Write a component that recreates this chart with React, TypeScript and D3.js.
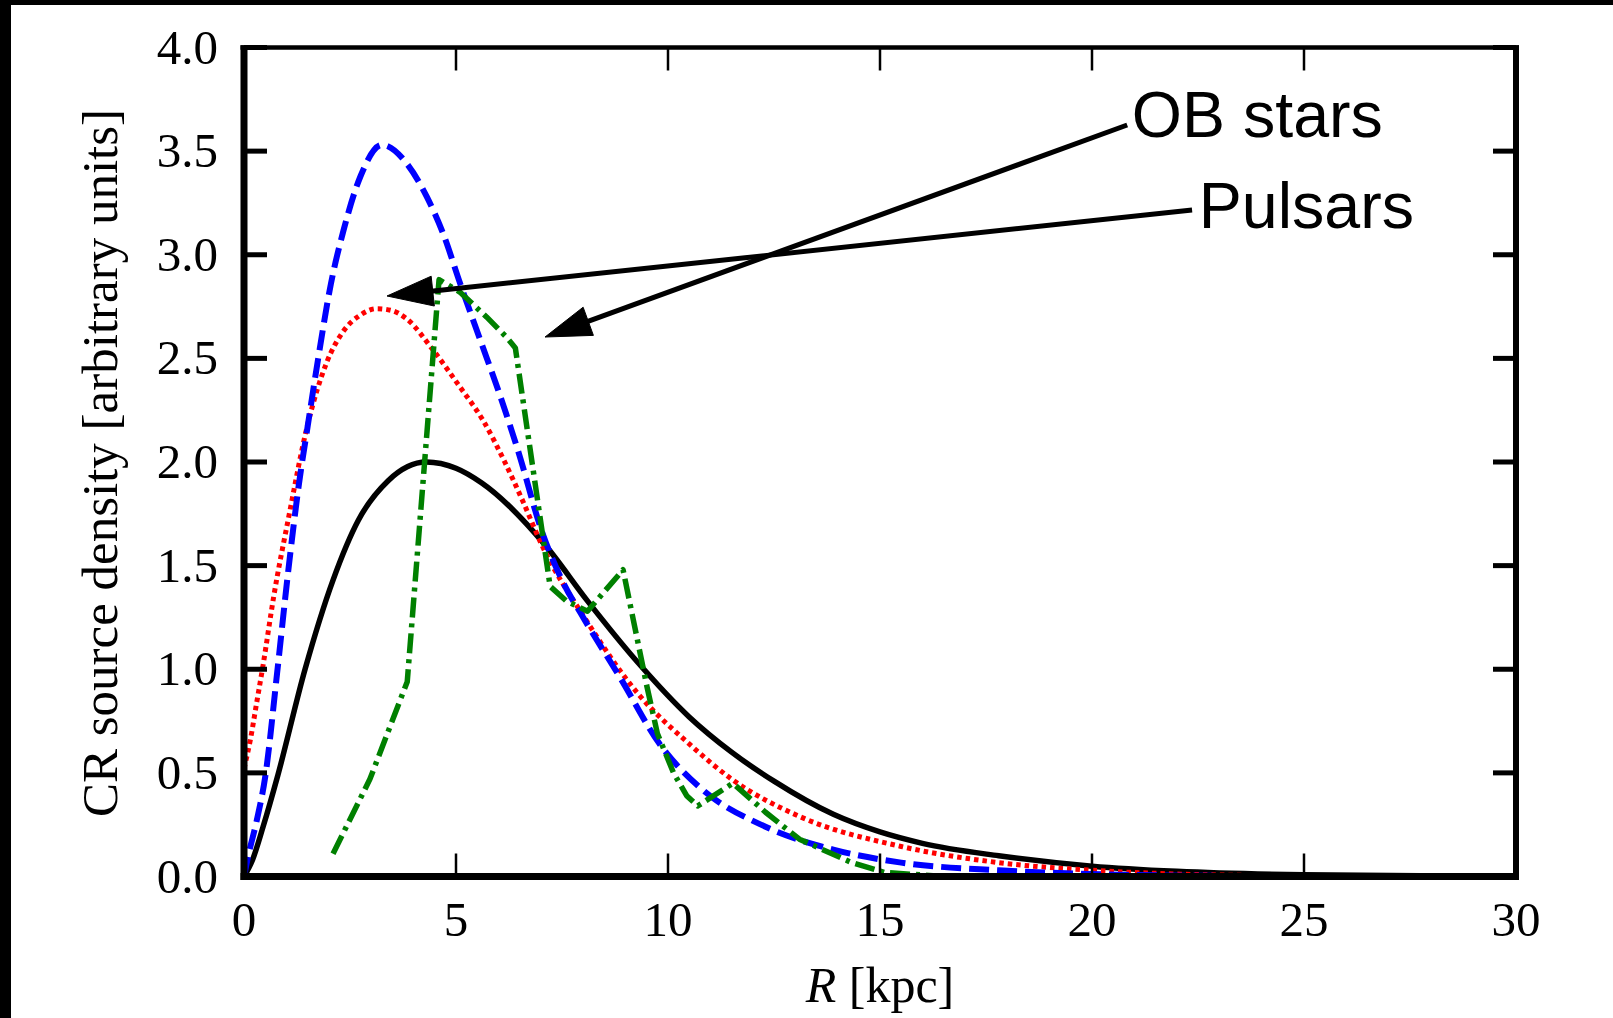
import React from 'react';
import * as d3 from 'd3';

// ---- data ----
const xTickValues = [0, 5, 10, 15, 20, 25, 30];
const yTickValues = [0, 0.5, 1.0, 1.5, 2.0, 2.5, 3.0, 3.5, 4.0];

// solid black curve: [R (kpc), density]
const blackSolid: [number, number][] = [
  [0, 0], [0.2, 0.08], [0.45, 0.24], [0.8, 0.49], [1.44, 1.0], [2.1, 1.43], [2.7, 1.72],
  [3.4, 1.91], [4.3, 2.0], [5.0, 1.97], [5.6, 1.9], [7.1, 1.6], [8.1, 1.33], [9.3, 1.03],
  [10.5, 0.77], [11.5, 0.6], [12.5, 0.46], [13.9, 0.3], [15, 0.215], [16, 0.16],
  [17.8, 0.1], [20, 0.05], [22, 0.025], [25, 0.008], [30, 0],
];

// blue dashed curve
const blueDashed: [number, number][] = [
  [0, 0], [0.1, 0.1], [0.3, 0.27], [0.5, 0.48], [0.78, 0.98], [1.03, 1.45], [1.3, 1.9],
  [1.5, 2.17], [1.75, 2.5], [2.05, 2.86], [2.35, 3.12], [2.75, 3.38], [3.25, 3.53],
  [3.84, 3.44], [4.31, 3.28], [4.7, 3.1], [5.1, 2.86], [5.57, 2.59], [6.04, 2.32],
  [6.5, 2.03], [7.0, 1.68], [7.5, 1.43], [8.0, 1.25], [8.87, 0.96], [9.8, 0.64],
  [10.75, 0.43], [12.3, 0.24], [13.9, 0.13], [15.5, 0.067], [17.8, 0.03], [20, 0.012],
  [23, 0.003], [30, 0],
];

// red dotted curve
const redDotted: [number, number][] = [
  [0, 0.52], [0.15, 0.66], [0.3, 0.84], [0.45, 1.02], [0.7, 1.35], [1.05, 1.73],
  [1.5, 2.18], [1.95, 2.48], [2.34, 2.63], [2.75, 2.71], [3.13, 2.74], [3.5, 2.73],
  [3.84, 2.69], [4.46, 2.54], [5.1, 2.36], [5.64, 2.2], [6.15, 2.0], [6.6, 1.8],
  [7.0, 1.61], [8.06, 1.24], [9.3, 0.88], [10.5, 0.64], [11.5, 0.47], [13.1, 0.29],
  [15.5, 0.145], [17.8, 0.067], [20, 0.03], [22, 0.012], [25, 0.003], [30, 0],
];

// green dash-dot polyline
const greenDashDot: [number, number][] = [
  [2.1, 0.11], [2.97, 0.47], [3.85, 0.94], [4.6, 2.88], [5.09, 2.82], [5.72, 2.7],
  [6.2, 2.6], [6.4, 2.55], [7.22, 1.4], [7.6, 1.33], [8.1, 1.28], [8.94, 1.48],
  [9.18, 1.24], [9.5, 0.92], [9.75, 0.69], [10.13, 0.5], [10.44, 0.39], [10.7, 0.34],
  [11.53, 0.45], [12.3, 0.31], [13.1, 0.18], [14.3, 0.07], [15.1, 0.02], [16.5, 0],
];

// annotations in data coordinates
const annotationLabels = ['OB stars', 'Pulsars'];
const annotationText: [number, number][] = [[20.94, 3.568], [22.52, 3.129]];
const annotationTail: [number, number][] = [[20.83, 3.626], [22.36, 3.216]];
const annotationTip: [number, number][] = [[7.1, 2.603], [3.373, 2.801]];

const W = 1613;
const H = 1018;
const SERIF = '"Liberation Serif", "Times New Roman", serif';
const SANS = '"Liberation Sans", Arial, sans-serif';

export default function App() {
  const x = d3.scaleLinear().domain([0, 30]).range([244, 1516]);
  const y = d3.scaleLinear().domain([0, 4]).range([876.5, 47.5]);
  const X0 = x(0), X1 = x(30), Y0 = y(0), Y1 = y(4);

  const smooth = d3
    .line<[number, number]>()
    .x((d) => x(d[0]))
    .y((d) => y(d[1]))
    .curve(d3.curveMonotoneX);
  const poly = d3
    .line<[number, number]>()
    .x((d) => x(d[0]))
    .y((d) => y(d[1]))
    .curve(d3.curveLinear);

  const tickLen = 23;
  const headLen = 46;
  const headHalf = 15;

  return (
    <svg
      width={W}
      height={H}
      viewBox={`0 0 ${W} ${H}`}
      style={{ position: 'absolute', left: 0, top: 0, display: 'block', background: '#fff' }}
    >
      <rect x={0} y={0} width={W} height={H} fill="#fff" />
      {/* black strips on the edges */}
      <rect x={0} y={0} width={W} height={5} fill="#000" />
      <rect x={0} y={0} width={11} height={H} fill="#000" />

      {/* curves */}
      <path d={smooth(blackSolid) || ''} fill="none" stroke="#000" strokeWidth={5.5} />
      <path d={smooth(redDotted) || ''} fill="none" stroke="#ff0000" strokeWidth={5} strokeDasharray="4.5 4" />
      <path d={smooth(blueDashed) || ''} fill="none" stroke="#0000ff" strokeWidth={6} strokeDasharray="20 8" />
      <path d={poly(greenDashDot) || ''} fill="none" stroke="#008000" strokeWidth={5.5} strokeDasharray="20 6 4 6" strokeLinejoin="round" />

      {/* ticks */}
      {yTickValues.map((t) => (
        <g key={'yt' + t}>
          <line x1={X0} x2={X0 + tickLen} y1={y(t)} y2={y(t)} stroke="#000" strokeWidth={5} />
          <line x1={X1 - tickLen} x2={X1} y1={y(t)} y2={y(t)} stroke="#000" strokeWidth={5} />
          <text
            x={218}
            y={y(t) + 16}
            textAnchor="end"
            fontFamily={SERIF}
            fontSize={49}
            fill="#000"
          >
            {t.toFixed(1)}
          </text>
        </g>
      ))}
      {xTickValues.map((t) => (
        <g key={'xt' + t}>
          <line x1={x(t)} x2={x(t)} y1={Y0} y2={Y0 - tickLen} stroke="#000" strokeWidth={2.5} />
          <line x1={x(t)} x2={x(t)} y1={Y1} y2={Y1 + tickLen} stroke="#000" strokeWidth={2.5} />
          <text x={x(t)} y={936} textAnchor="middle" fontFamily={SERIF} fontSize={49} fill="#000">
            {String(t)}
          </text>
        </g>
      ))}

      {/* frame */}
      <line x1={X0 - 3.5} x2={X1 + 3} y1={Y1} y2={Y1} stroke="#000" strokeWidth={4.5} />
      <line x1={X0 - 3.5} x2={X1 + 3} y1={Y0} y2={Y0} stroke="#000" strokeWidth={7} />
      <line x1={X0} x2={X0} y1={Y1 - 2.25} y2={Y0 + 3.5} stroke="#000" strokeWidth={7} />
      <line x1={X1} x2={X1} y1={Y1 - 2.25} y2={Y0 + 3.5} stroke="#000" strokeWidth={6} />

      {/* axis labels */}
      <text x={880} y={1002} textAnchor="middle" fontFamily={SERIF} fontSize={50} fill="#000">
        <tspan fontStyle="italic">R</tspan>
        <tspan> [kpc]</tspan>
      </text>
      <text
        transform="translate(117,463) rotate(-90)"
        textAnchor="middle"
        fontFamily={SERIF}
        fontSize={51}
        fill="#000"
      >
        CR source density [arbitrary units]
      </text>

      {/* annotations */}
      {annotationLabels.map((label, i) => {
        const tx = x(annotationTail[i][0]);
        const ty = y(annotationTail[i][1]);
        const px = x(annotationTip[i][0]);
        const py = y(annotationTip[i][1]);
        const dx = px - tx;
        const dy = py - ty;
        const len = Math.sqrt(dx * dx + dy * dy);
        const ux = dx / len;
        const uy = dy / len;
        const bx = px - ux * headLen;
        const by = py - uy * headLen;
        const nx = -uy;
        const ny = ux;
        const head = `M${px},${py}L${bx + nx * headHalf},${by + ny * headHalf}L${bx - nx * headHalf},${by - ny * headHalf}Z`;
        return (
          <g key={label}>
            <line x1={tx} y1={ty} x2={bx + ux * 4} y2={by + uy * 4} stroke="#000" strokeWidth={5} />
            <path d={head} fill="#000" stroke="#000" strokeWidth={1} />
            <text
              x={x(annotationText[i][0])}
              y={y(annotationText[i][1])}
              fontFamily={SANS}
              fontSize={64.5}
              fill="#000"
            >
              {label}
            </text>
          </g>
        );
      })}
    </svg>
  );
}
